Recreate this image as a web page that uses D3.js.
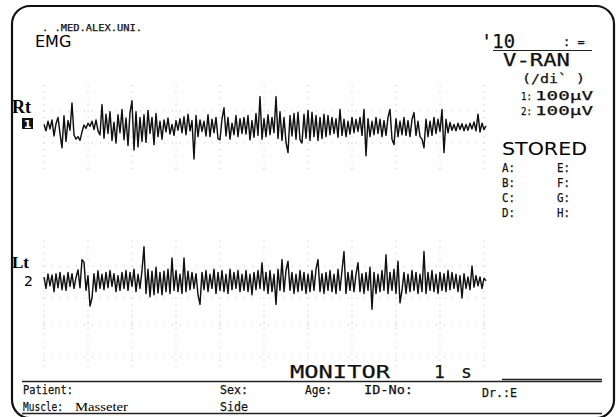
<!DOCTYPE html>
<html>
<head>
<meta charset="utf-8">
<script src="https://cdn.jsdelivr.net/npm/d3@7"></script>
<style>
  body { margin: 0; background: #fff; }
  svg { display: block; }
  .mono { font-family: "DejaVu Sans Mono", monospace; fill: #111; stroke: #111; stroke-width: 0.25; }
  .serif { font-family: "Liberation Serif", "Times New Roman", serif; fill: #000; }
</style>
</head>
<body>
<div id="chart"></div>
<script>
// EMG samples, microvolts, one every 2 px of trace (channel 1 = Rt, channel 2 = Lt)
const rtTrace = [
    8, -12, 18, -6, 22, -28, 10, 30, -20, -65,
    35, -45, 20, -10, 75, -25, -38, -30, -42, -15,
    6, -4, 12, 2, 18, -8, 22, -12, -25, 70,
    -35, 40, -20, 48, -42, 15, -50, 38, -18, 55,
    -40, 28, -58, 45, 82, -72, 48, -62, 30, -45,
    38, -48, 52, -20, 30, -55, 42, -30, 18, -38,
    22, -15, 28, -22, 8, -26, 20, -10, 26, -18,
    32, -24, 40, -12, 20, -100, 36, -30, 22, -14,
    18, -28, 38, -30, 24, -18, 30, -36, -40, 25,
    60, -28, 30, -38, 12, -24, 36, -30, 26, -20,
    30, -22, 36, -40, 20, -32, 42, -26, 95, -38,
    26, -30, 38, -24, 30, -18, 95, -36, 48, -42,
    30, -48, -80, 36, -28, 42, -38, 46, -40, -50,
    40, -35, 52, -42, 46, -30, 36, -42, 30, -36,
    40, -30, 36, -24, 30, -20, 26, -32, 55, -26,
    24, -30, 18, -22, 30, -18, 24, -14, 30, -26,
    55, -90, 26, -30, 18, -24, 30, -20, 24, -30,
    20, -26, 30, 55, -38, -55, 26, -30, 18, -24,
    30, -26, 20, -30, 24, 45, -26, 18, -30, -38,
    -65, 24, -30, 18, -26, 30, -20, 24, -14, 55,
    -80, 24, -18, 14, -10, 8, -12, 12, -8, 10,
    -12, 8, -10, 12, -6, 16, -12, 40, -16, 12, -8, 4
];
const ltTrace = [
    15, -20, 25, -12, 22, -30, 26, -18, 30, -24,
    20, -26, 30, -14, 26, -20, 14, 38, -18, 70,
    62, -26, 20, -75, -50, 26, -30, 35, -20, 24,
    -24, 30, -18, 36, -14, 26, -30, 20, -26, 30,
    -20, 36, -26, 30, -14, 40, -30, 24, -20, 36,
    110, -36, 40, -46, 34, -40, 46, -34, 30, -40,
    34, -30, 40, -36, 75, -26, 36, -30, 24, -36,
    75, -30, 34, -24, 30, -20, 26, -40, -70, 30,
    -24, 36, -30, 24, -20, 40, -36, 30, -26, 36,
    -30, 24, -36, 40, -24, 30, -20, 36, -30, 24,
    -26, 36, -30, 24, -40, 30, -24, 36, -20, 60,
    -26, 30, -36, 36, -30, 24, -70, 40, -26, 70,
    -30, 36, 65, -26, 30, -36, 24, -30, 36, -26,
    30, -36, 24, -30, 36, -26, 40, 70, -30, 26,
    -36, 30, -26, 36, -30, 24, -36, 40, -26, 36,
    95, -36, 30, -26, 36, -30, 24, 60, -30, 26,
    -36, 30, -26, 46, -85, 30, -36, 24, -30, 36,
    -26, 85, -36, 30, -26, 40, -36, 65, -65, -26,
    30, -36, 24, -30, 36, -26, 30, -36, 24, -30,
    95, -36, 30, -26, 36, -30, 24, -36, 30, -26,
    26, -30, 36, -24, 30, -20, 24, -30, 20, -50,
    26, -20, 16, -24, 50, -16, 20, -12, 16, -20, 12, 4
];
const gridDivs = d3.range(0, 11);           // 10 time divisions
const storedLeft = ["A:", "B:", "C:", "D:"];
const storedRight = ["E:", "F:", "G:", "H:"];
const sensitivities = ["1:", "2:"];
const sensValue = "100\u03bcV";

const W = 616, H = 417;
const svg = d3.select("#chart").append("svg")
    .attr("width", W).attr("height", H);

// time axis: sample index -> x
const x = d3.scaleLinear().domain([0, rtTrace.length - 1]).range([44, 486]);
const xDiv = d3.scaleLinear().domain([0, 10]).range([44, 484]);

// each channel has its own vertical band, 100 uV per division
const channels = [
    { center: 127, data: rtTrace },
    { center: 282, data: ltTrace },
    { center: 341, data: null }
];

// faint dotted grid
const grid = svg.append("g").attr("fill", "#c4c4c4");
channels.forEach(ch => {
    const y = d3.scaleLinear().domain([-100, 100]).range([ch.center + 32, ch.center - 32]);
    const ext = ch.data ? 130 : 80;
    gridDivs.forEach(k => {
        d3.range(-ext, ext + 1, 20).forEach(v => {
            grid.append("rect").attr("x", xDiv(k) - 0.5).attr("y", y(v) - 0.5)
                .attr("width", 1).attr("height", 1);
        });
    });
    [-50, 50].forEach(v => {
        d3.range(44, 485, 8).forEach(px => {
            grid.append("rect").attr("x", px).attr("y", y(v) - 0.5)
                .attr("width", 1).attr("height", 1);
        });
    });
    ch.y = y;
});

// traces
channels.filter(ch => ch.data).forEach(ch => {
    const line = d3.line()
        .x((d, i) => x(i))
        .y(d => ch.y(d));
    svg.append("path")
        .datum(ch.data)
        .attr("fill", "none")
        .attr("stroke", "#111")
        .attr("stroke-width", 1.45)
        .attr("stroke-linejoin", "round")
        .attr("d", line);
});

// frame
svg.append("rect")
    .attr("x", 12).attr("y", 6)
    .attr("width", 602).attr("height", 412)
    .attr("rx", 18)
    .attr("fill", "none")
    .attr("stroke", "#111")
    .attr("stroke-width", 2.2);

// small helper for stretched printer text
function ptext(t, px, py, size, w, cls) {
    const el = svg.append("text").attr("class", cls || "mono")
        .attr("x", px).attr("y", py).attr("font-size", size)
        .text(t);
    if (w) el.attr("textLength", w).attr("lengthAdjust", "spacingAndGlyphs");
    return el;
}

// header
ptext(". .MED.ALEX.UNI.", 42, 31, 9, 100).attr("fill", "#444").attr("stroke", "none");
svg.append("text")
    .attr("x", 35).attr("y", 47)
    .attr("font-family", "DejaVu Sans").attr("font-size", 16)
    .text("EMG");

ptext("'10", 481, 48, 20, 34);
ptext(": =", 563, 46, 12).attr("fill", "#999").attr("stroke", "none");
svg.append("line")
    .attr("x1", 493).attr("x2", 592).attr("y1", 50.5).attr("y2", 50.5)
    .attr("stroke", "#222").attr("stroke-width", 1.2);

ptext("V-RAN", 503, 66, 18, 67);
ptext("(/di` )", 522, 83, 13, 63);
sensitivities.forEach((s, i) => {
    ptext(s, 521, 100 + i * 15, 11, 11);
    ptext(sensValue, 535, 100 + i * 15, 13, 58);
});

svg.append("text")
    .attr("x", 502).attr("y", 155)
    .attr("font-family", "DejaVu Sans").attr("font-size", 18)
    .attr("textLength", 85).attr("lengthAdjust", "spacingAndGlyphs")
    .text("STORED");
[storedLeft, storedRight].forEach((col, c) => {
    col.forEach((s, i) => {
        ptext(s, c ? 557 : 502, 172 + i * 15, 13, 13);
    });
});

// channel labels
svg.append("text").attr("class", "serif")
    .attr("x", 12).attr("y", 113)
    .attr("font-size", 18).attr("font-weight", "bold")
    .text("Rt");
svg.append("rect")
    .attr("x", 22).attr("y", 118).attr("width", 11).attr("height", 11)
    .attr("fill", "#111");
svg.append("text")
    .attr("x", 27.5).attr("y", 128)
    .attr("text-anchor", "middle")
    .attr("font-family", "DejaVu Sans").attr("font-size", 11).attr("font-weight", "bold")
    .attr("fill", "#fff")
    .text("1");
svg.append("text").attr("class", "serif")
    .attr("x", 12).attr("y", 268)
    .attr("font-size", 17).attr("font-weight", "bold")
    .text("Lt");
svg.append("text")
    .attr("x", 24).attr("y", 286)
    .attr("font-family", "DejaVu Sans").attr("font-size", 14)
    .text("2");

// footer
ptext("MONITOR", 290, 378, 18, 100);
ptext("1", 434, 378, 18);
ptext("s", 461, 378, 18);

svg.append("line")
    .attr("x1", 22).attr("x2", 602).attr("y1", 381.5).attr("y2", 381.5)
    .attr("stroke", "#222").attr("stroke-width", 1.3);
svg.append("line")
    .attr("x1", 502).attr("x2", 602).attr("y1", 379.5).attr("y2", 379.5)
    .attr("stroke", "#222").attr("stroke-width", 1.6);
svg.append("line")
    .attr("x1", 22).attr("x2", 602).attr("y1", 413.5).attr("y2", 413.5)
    .attr("stroke", "#222").attr("stroke-width", 1.3);

const fields = [
    { t: "Patient:", x: 23, y: 394, w: 50 },
    { t: "Sex:", x: 220, y: 394, w: 28 },
    { t: "Age:", x: 305, y: 394, w: 27 },
    { t: "ID-No:", x: 364, y: 394, w: 49 },
    { t: "Dr.:E", x: 482, y: 397, w: 35 },
    { t: "Muscle:", x: 23, y: 411, w: 40 },
    { t: "Side", x: 220, y: 411, w: 28 }
];
fields.forEach(f => ptext(f.t, f.x, f.y, 13, f.w));
svg.append("text").attr("class", "serif")
    .attr("x", 75).attr("y", 411).attr("font-size", 13)
    .attr("textLength", 53).attr("lengthAdjust", "spacingAndGlyphs")
    .text("Masseter");
</script>
</body>
</html>
